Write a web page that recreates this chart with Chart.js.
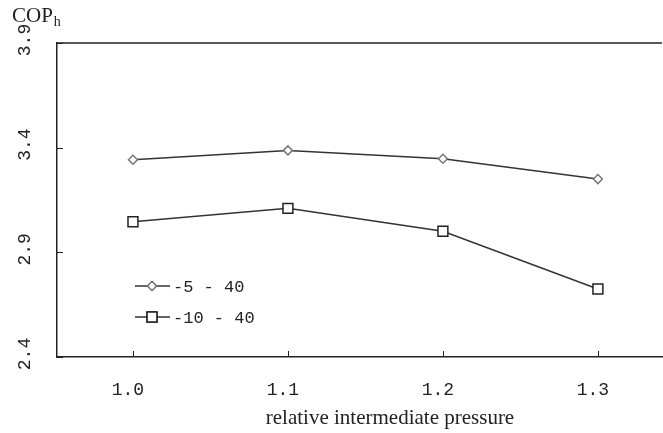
<!DOCTYPE html>
<html>
<head>
<meta charset="utf-8">
<script src="https://cdn.jsdelivr.net/npm/chart.js@4.4.0/dist/chart.umd.min.js"></script>
<style>
html, body { margin: 0; padding: 0; background: #fff; }
#wrap { width: 663px; height: 433px; }
</style>
</head>
<body>
<div id="wrap"><canvas id="myChart" width="663" height="433"></canvas></div>
<script>
// data
var pressure = [1.0, 1.1, 1.2, 1.3];
var cop_5_40 = [3.342, 3.387, 3.347, 3.250];
var cop_10_40 = [3.046, 3.110, 3.001, 2.725];
var series_names = ['-5 - 40', '-10 - 40'];
var x_ticks = [1.0, 1.1, 1.2, 1.3];
var y_ticks = [2.4, 2.9, 3.4, 3.9];

var mono = '"Liberation Mono", monospace';
var serif = '"Liberation Serif", "Times New Roman", serif';

function toPoints(xs, ys){
    var pts = [];
    for (i = 0; i < xs.length; i++){
        pts.push({x: xs[i], y: ys[i]});
    }
    return pts;
}

// extra drawing: frame top, inward ticks, tick labels, legend, titles
var decor = {
    id: 'decor',
    afterDraw: function(chart){
        var ctx = chart.ctx;
        var area = chart.chartArea;
        var xs = chart.scales.x;
        var ys = chart.scales.y;
        ctx.save();
        ctx.strokeStyle = '#222';
        ctx.lineWidth = 1.5;
        ctx.beginPath();
        ctx.moveTo(area.left, area.top);
        ctx.lineTo(area.right - 1, area.top);
        ctx.stroke();

        ctx.lineWidth = 1;
        ctx.beginPath();
        x_ticks.forEach(function(v){
            var px = Math.round(xs.getPixelForValue(v)) + 0.5;
            ctx.moveTo(px, area.bottom);
            ctx.lineTo(px, area.bottom - 6);
        });
        y_ticks.forEach(function(v){
            var py = Math.round(ys.getPixelForValue(v)) + 0.5;
            ctx.moveTo(area.left, py);
            ctx.lineTo(area.left + 6, py);
        });
        ctx.stroke();

        ctx.fillStyle = '#222';
        ctx.font = '18px ' + mono;
        ctx.textAlign = 'center';
        ctx.textBaseline = 'middle';
        // x tick labels
        x_ticks.forEach(function(v){
            ctx.fillText(v.toFixed(1), xs.getPixelForValue(v) - 5, area.bottom + 33);
        });
        // y tick labels, rotated
        y_ticks.forEach(function(v){
            var py = ys.getPixelForValue(v) - 3;
            ctx.save();
            ctx.translate(25, py);
            ctx.rotate(-Math.PI / 2);
            ctx.fillText(v.toFixed(1), 0, 0);
            ctx.restore();
        });

        // legend
        var rows = [
            {name: series_names[0], ds: chart.data.datasets[0], y: 286},
            {name: series_names[1], ds: chart.data.datasets[1], y: 317}
        ];
        rows.forEach(function(r){
            ctx.strokeStyle = r.ds.borderColor;
            ctx.lineWidth = r.ds.borderWidth;
            ctx.beginPath();
            ctx.moveTo(135, r.y);
            ctx.lineTo(170, r.y);
            ctx.stroke();
            ctx.fillStyle = '#fff';
            ctx.strokeStyle = r.ds.pointBorderColor;
            ctx.lineWidth = r.ds.pointBorderWidth;
            Chart.helpers.drawPoint(ctx, {pointStyle: r.ds.pointStyle, radius: r.ds.pointRadius, rotation: 0, borderWidth: r.ds.pointBorderWidth}, 152, r.y);
            ctx.fill();
            ctx.stroke();
            ctx.fillStyle = '#222';
            ctx.font = '17px ' + mono;
            ctx.textAlign = 'left';
            ctx.textBaseline = 'middle';
            ctx.fillText(r.name, 173, r.y + 1);
        });

        // y title COP_h
        ctx.fillStyle = '#222';
        ctx.textBaseline = 'alphabetic';
        ctx.textAlign = 'left';
        ctx.font = '21px ' + serif;
        ctx.fillText('COP', 12, 22);
        var w = ctx.measureText('COP').width;
        ctx.font = '14px ' + serif;
        ctx.fillText('h', 13 + w, 26);

        // x title
        ctx.font = '21px ' + serif;
        ctx.textAlign = 'center';
        ctx.fillText('relative intermediate pressure', 390, 424);
        ctx.restore();
    }
};

var myChart = document.getElementById('myChart').getContext('2d');
var lineChart = new Chart(myChart, {
    type: 'line',
    data: {
        datasets: [{
            label: series_names[0],
            data: toPoints(pressure, cop_5_40),
            borderColor: '#333',
            borderWidth: 1.5,
            pointStyle: 'rectRot',
            pointRadius: 4.5,
            pointBorderColor: '#777',
            pointBorderWidth: 1.5,
            pointBackgroundColor: '#fff',
            fill: false,
            tension: 0
        }, {
            label: series_names[1],
            data: toPoints(pressure, cop_10_40),
            borderColor: '#333',
            borderWidth: 1.5,
            pointStyle: 'rect',
            pointRadius: 7,
            pointBorderColor: '#222',
            pointBorderWidth: 1.5,
            pointBackgroundColor: '#fff',
            fill: false,
            tension: 0
        }]
    },
    options: {
        responsive: false,
        animation: false,
        devicePixelRatio: 1,
        layout: {autoPadding: false, padding: {top: 43, right: 0, left: 0, bottom: 0}},
        plugins: {legend: {display: false}, tooltip: {enabled: false}},
        scales: {
            x: {
                type: 'linear',
                min: 0.951,
                max: 1.342,
                afterBuildTicks: function(s){ s.ticks = x_ticks.map(function(v){ return {value: v}; }); },
                afterFit: function(s){ s.height = 76; },
                grid: {display: false, drawTicks: false},
                border: {display: true, color: '#222', width: 1.5},
                ticks: {display: false}
            },
            y: {
                type: 'linear',
                min: 2.4,
                max: 3.9,
                afterBuildTicks: function(s){ s.ticks = y_ticks.map(function(v){ return {value: v}; }); },
                afterFit: function(s){ s.width = 57; },
                grid: {display: false, drawTicks: false},
                border: {display: true, color: '#222', width: 1.5},
                ticks: {display: false}
            }
        }
    },
    plugins: [decor]
});
</script>
</body>
</html>
